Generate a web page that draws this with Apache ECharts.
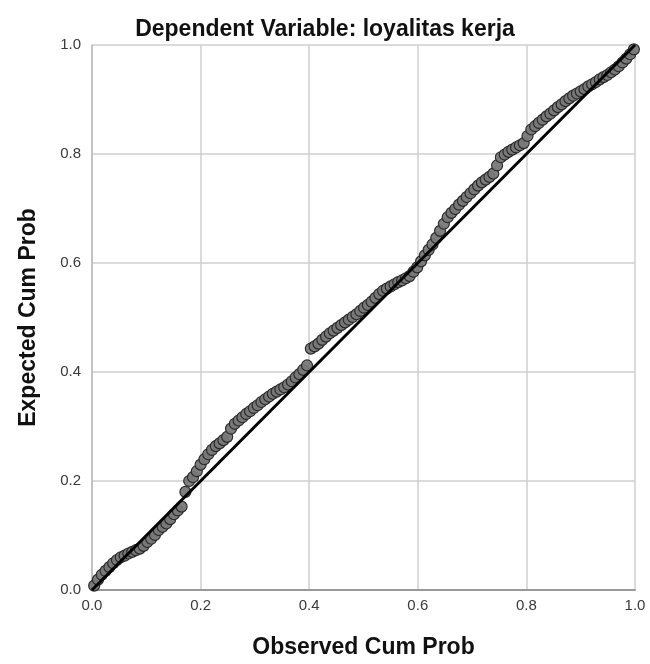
<!DOCTYPE html>
<html>
<head>
<meta charset="utf-8">
<script src="https://cdn.jsdelivr.net/npm/echarts@6/dist/echarts.min.js"></script>
<style>
  html, body { margin: 0; padding: 0; background: #fff; }
  #chart { width: 650px; height: 664px; }
</style>
</head>
<body>
<div id="chart"></div>
<script>
// observed cum prob (x) and expected cum prob (y)
var observed = [
  0.004, 0.011, 0.018, 0.025, 0.032, 0.039, 0.046, 0.053, 0.060, 0.067,
  0.074, 0.081, 0.088, 0.095, 0.102, 0.109, 0.116, 0.123, 0.130, 0.137,
  0.144, 0.151, 0.158, 0.165, 0.172, 0.179, 0.186, 0.193, 0.200, 0.207,
  0.214, 0.221, 0.228, 0.235, 0.242, 0.249, 0.256, 0.263, 0.270, 0.277,
  0.284, 0.291, 0.298, 0.305, 0.312, 0.319, 0.326, 0.333, 0.340, 0.347,
  0.354, 0.361, 0.368, 0.375, 0.382, 0.389, 0.396, 0.403, 0.410, 0.417,
  0.424, 0.431, 0.438, 0.445, 0.452, 0.459, 0.466, 0.473, 0.480, 0.487,
  0.494, 0.501, 0.508, 0.515, 0.522, 0.529, 0.536, 0.543, 0.550, 0.557,
  0.564, 0.571, 0.578, 0.585, 0.592, 0.599, 0.606, 0.613, 0.620, 0.627,
  0.634, 0.641, 0.648, 0.655, 0.662, 0.669, 0.676, 0.683, 0.690, 0.697,
  0.704, 0.711, 0.718, 0.725, 0.732, 0.739, 0.746, 0.753, 0.760, 0.767,
  0.774, 0.781, 0.788, 0.795, 0.802, 0.809, 0.816, 0.823, 0.830, 0.837,
  0.844, 0.851, 0.858, 0.865, 0.872, 0.879, 0.886, 0.893, 0.900, 0.907,
  0.914, 0.921, 0.928, 0.935, 0.942, 0.949, 0.956, 0.963, 0.970, 0.977,
  0.984, 0.991, 0.998
];
var expected = [
  0.008, 0.019, 0.028, 0.035, 0.042, 0.049, 0.055, 0.060, 0.063, 0.067,
  0.070, 0.073, 0.076, 0.081, 0.088, 0.094, 0.101, 0.110, 0.116, 0.122,
  0.130, 0.139, 0.146, 0.153, 0.180, 0.200, 0.207, 0.218, 0.230, 0.240,
  0.249, 0.257, 0.264, 0.269, 0.275, 0.281, 0.296, 0.305, 0.311, 0.317,
  0.323, 0.328, 0.334, 0.339, 0.345, 0.350, 0.355, 0.360, 0.364, 0.368,
  0.372, 0.377, 0.383, 0.390, 0.396, 0.404, 0.412, 0.443, 0.447, 0.452,
  0.459, 0.465, 0.471, 0.476, 0.481, 0.486, 0.491, 0.496, 0.501, 0.506,
  0.512, 0.518, 0.523, 0.529, 0.536, 0.543, 0.549, 0.553, 0.557, 0.561,
  0.565, 0.568, 0.572, 0.576, 0.584, 0.592, 0.603, 0.614, 0.624, 0.634,
  0.646, 0.659, 0.672, 0.684, 0.692, 0.699, 0.707, 0.714, 0.721, 0.728,
  0.735, 0.742, 0.748, 0.753, 0.758, 0.764, 0.779, 0.794, 0.799, 0.804,
  0.808, 0.812, 0.816, 0.820, 0.833, 0.845, 0.851, 0.857, 0.863, 0.869,
  0.874, 0.880, 0.886, 0.891, 0.897, 0.902, 0.907, 0.911, 0.915, 0.919,
  0.924, 0.928, 0.932, 0.937, 0.941, 0.945, 0.950, 0.955, 0.961, 0.968,
  0.975, 0.983, 0.992
];
// diagonal reference line
var diagX = [0, 1];
var diagY = [0, 1];

var points = observed.map(function (v, i) { return [v, expected[i]]; });
var diag = diagX.map(function (v, i) { return [v, diagY[i]]; });

var chart = echarts.init(document.getElementById('chart'), null, { renderer: 'canvas' });

var font = '"Liberation Sans", Arial, sans-serif';

chart.setOption({
    animation: false,
    backgroundColor: '#ffffff',
    title: {
        text: 'Dependent Variable: loyalitas kerja',
        left: 320,
        top: 13,
        textAlign: 'center',
        textStyle: { fontFamily: font, fontSize: 23, fontWeight: 'bold', color: '#111' }
    },
    grid: { left: 92, right: 15, top: 45, bottom: 74, containLabel: false },
    xAxis: {
        type: 'value',
        min: 0, max: 1, interval: 0.2,
        name: 'Observed Cum Prob',
        nameLocation: 'middle',
        nameGap: 46,
        nameTextStyle: { fontFamily: font, fontSize: 23, fontWeight: 'bold', color: '#111' },
        axisLine: { lineStyle: { color: '#999', width: 2 } },
        axisTick: { show: false },
        axisLabel: {
            fontFamily: font, fontSize: 15, color: '#3a3a3a', margin: 8,
            formatter: function (v) { return v.toFixed(1); }
        },
        splitLine: { show: true, lineStyle: { color: '#cfcfcf', width: 1.5 } }
    },
    yAxis: {
        type: 'value',
        min: 0, max: 1, interval: 0.2,
        name: 'Expected Cum Prob',
        nameLocation: 'middle',
        nameGap: 52,
        nameTextStyle: { fontFamily: font, fontSize: 23, fontWeight: 'bold', color: '#111' },
        axisLine: { show: true, lineStyle: { color: '#bbb', width: 1.5 } },
        axisTick: { show: false },
        axisLabel: {
            fontFamily: font, fontSize: 15, color: '#3a3a3a', margin: 11,
            formatter: function (v) { return v.toFixed(1); }
        },
        splitLine: { show: true, lineStyle: { color: '#cfcfcf', width: 1.5 } }
    },
    series: [
        {
            type: 'scatter',
            data: points,
            symbol: 'circle',
            symbolSize: 11,
            itemStyle: { color: '#787878', borderColor: '#262626', borderWidth: 1.2, opacity: 0.95 },
            z: 3
        },
        {
            // SPSS draws the reference line over the points
            type: 'line',
            data: diag,
            symbol: 'none',
            lineStyle: { color: '#000', width: 3 },
            z: 5
        }
    ]
});
</script>
</body>
</html>
